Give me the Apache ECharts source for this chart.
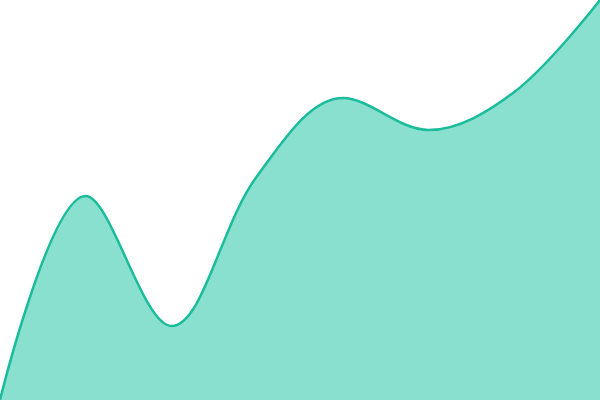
<!DOCTYPE html>
<html><head><meta charset="utf-8">
<script src="https://cdn.jsdelivr.net/npm/echarts@6/dist/echarts.min.js"></script>
<style>html,body{margin:0;padding:0;background:#fff}#c{width:600px;height:400px}</style>
</head><body><div id="c"></div>
<script>
var categories = ['A','B','C','D','E','F','G','H'];
var values = [0, 51, 18.5, 56, 75.5, 67.5, 77, 100];
var chart = echarts.init(document.getElementById('c'));
chart.setOption({
  animation: false,
  grid: {left: 0, right: 0, top: 0, bottom: 0},
  xAxis: {type: 'category', data: categories, boundaryGap: false, show: false},
  yAxis: {type: 'value', min: 0, max: 100, show: false},
  series: [{
    type: 'line', data: values, smooth: 0.35, symbol: 'none',
    lineStyle: {color: '#1abc9c', width: 2.5},
    areaStyle: {color: '#8ae0cf', opacity: 1}
  }]
});
</script></body></html>
